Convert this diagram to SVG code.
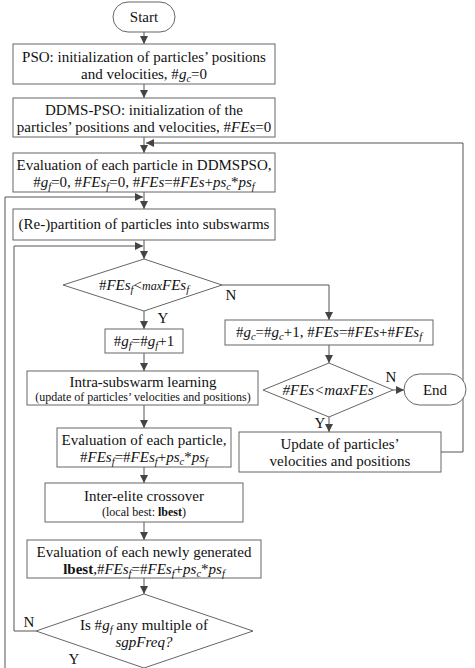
<svg xmlns="http://www.w3.org/2000/svg" width="475" height="668" viewBox="0 0 475 668">
<defs>
<marker id="ah" viewBox="0 0 10 10" refX="10" refY="5" markerWidth="8" markerHeight="8" markerUnits="userSpaceOnUse" orient="auto">
<path d="M0,0 L10,5 L0,10 z" fill="#444"/>
</marker>
</defs>
<style>
.b{fill:#fff;stroke:#666;stroke-width:1}
.t{font-family:'Liberation Serif','Times New Roman',Times,serif;font-size:15px;fill:#111;text-anchor:middle}
.s{font-size:12px}
.i{font-style:italic}
.sub{font-size:10.5px;font-style:italic}
.c{fill:none;stroke:#555;stroke-width:1}
.a{fill:none;stroke:#555;stroke-width:1;marker-end:url(#ah)}
</style>
<rect width="475" height="668" fill="#fff"/>
<g id="connectors">
<line class="a" x1="144" y1="32" x2="144" y2="44"/>
<line class="a" x1="144" y1="84" x2="144" y2="98"/>
<line class="a" x1="144" y1="137" x2="144" y2="153"/>
<polyline class="a" points="441,452 463,452 463,143 146,143"/>
<line class="a" x1="144" y1="192" x2="144" y2="209"/>
<polyline class="a" points="5,668 5,197 143,197"/>
<polyline class="a" points="36,631 14,631 14,246 143,246"/>
<line class="a" x1="144" y1="240" x2="144" y2="259"/>
<line class="a" x1="144" y1="311" x2="144" y2="329"/>
<polyline class="a" points="222,285 329,285 329,320"/>
<line class="a" x1="329" y1="345" x2="329" y2="363"/>
<line class="a" x1="393" y1="390" x2="404" y2="390"/>
<line class="a" x1="329" y1="417" x2="329" y2="432"/>
<line class="a" x1="144" y1="353" x2="144" y2="371"/>
<line class="a" x1="144" y1="405" x2="144" y2="428"/>
<line class="a" x1="144" y1="467" x2="144" y2="483"/>
<line class="a" x1="144" y1="522" x2="144" y2="540"/>
<line class="a" x1="144" y1="578" x2="144" y2="594"/>
</g>
<g id="start">
<rect class="b" x="113" y="2" width="62" height="30" rx="15"/>
<text class="t" x="144" y="22">Start</text>
</g>
<g id="pso-init">
<rect class="b" x="13" y="44" width="262" height="40"/>
<text class="t" x="144" y="62">PSO: initialization of particles’ positions</text>
<text class="t" x="144" y="79">and velocities, #<tspan class="i">g</tspan><tspan class="sub" dy="3">c</tspan><tspan dy="-3">=0</tspan></text>
</g>
<g id="ddms-init">
<rect class="b" x="13" y="98" width="262" height="39"/>
<text class="t" x="144" y="115">DDMS-PSO: initialization of the</text>
<text class="t" x="144" y="132">particles’ positions and velocities, #<tspan class="i">FEs</tspan>=0</text>
</g>
<g id="eval-all">
<rect class="b" x="13" y="153" width="262" height="39"/>
<text class="t" x="144" y="170">Evaluation of each particle in DDMSPSO,</text>
<text class="t" x="144" y="187">#<tspan class="i">g</tspan><tspan class="sub" dy="3">f</tspan><tspan dy="-3">=0, #</tspan><tspan class="i">FEs</tspan><tspan class="sub" dy="3">f</tspan><tspan dy="-3">=0, #</tspan><tspan class="i">FEs</tspan>=#<tspan class="i">FEs</tspan>+<tspan class="i">ps</tspan><tspan class="sub" dy="3">c</tspan><tspan dy="-3">*</tspan><tspan class="i">ps</tspan><tspan class="sub" dy="3">f</tspan></text>
</g>
<g id="repartition">
<rect class="b" x="13" y="209" width="262" height="31"/>
<text class="t" x="144" y="229">(Re-)partition of particles into subswarms</text>
</g>
<g id="cond-fesf">
<polygon class="b" points="144,259 222,285 144,311 63,285"/>
<text class="t" x="144" y="290">#<tspan class="i">FEs</tspan><tspan class="sub" dy="3">f</tspan><tspan dy="-3">&lt;</tspan><tspan class="i s">max</tspan><tspan class="i">FEs</tspan><tspan class="sub" dy="3">f</tspan></text>
<text class="t" x="231" y="300">N</text>
<text class="t" x="163" y="323">Y</text>
</g>
<g id="gf-inc">
<rect class="b" x="105" y="329" width="78" height="24"/>
<text class="t" x="144" y="346">#<tspan class="i">g</tspan><tspan class="sub" dy="3">f</tspan><tspan dy="-3">=#</tspan><tspan class="i">g</tspan><tspan class="sub" dy="3">f</tspan><tspan dy="-3">+1</tspan></text>
</g>
<g id="gc-inc">
<rect class="b" x="225" y="320" width="208" height="25"/>
<text class="t" x="329" y="337">#<tspan class="i">g</tspan><tspan class="sub" dy="3">c</tspan><tspan dy="-3">=#</tspan><tspan class="i">g</tspan><tspan class="sub" dy="3">c</tspan><tspan dy="-3">+1, #</tspan><tspan class="i">FEs</tspan>=#<tspan class="i">FEs</tspan>+#<tspan class="i">FEs</tspan><tspan class="sub" dy="3">f</tspan></text>
</g>
<g id="cond-fes">
<polygon class="b" points="329,363 393,390 329,417 263,390"/>
<text class="t i" x="328" y="395">#FEs&lt;maxFEs</text>
<text class="t" x="391" y="382">N</text>
<text class="t" x="320" y="428">Y</text>
</g>
<g id="end">
<rect class="b" x="404" y="374" width="62" height="31" rx="15.5"/>
<text class="t" x="435" y="395">End</text>
</g>
<g id="update">
<rect class="b" x="239" y="432" width="202" height="40"/>
<text class="t" x="340" y="449">Update of particles’</text>
<text class="t" x="340" y="466">velocities and positions</text>
</g>
<g id="intra">
<rect class="b" x="27" y="371" width="231" height="34"/>
<text class="t" x="143" y="387">Intra-subswarm learning</text>
<text class="t s" x="143" y="401">(update of particles’ velocities and positions)</text>
</g>
<g id="eval-particle">
<rect class="b" x="57" y="428" width="174" height="39"/>
<text class="t" x="144" y="445">Evaluation of each particle,</text>
<text class="t" x="144" y="462">#<tspan class="i">FEs</tspan><tspan class="sub" dy="3">f</tspan><tspan dy="-3">=#</tspan><tspan class="i">FEs</tspan><tspan class="sub" dy="3">f</tspan><tspan dy="-3">+</tspan><tspan class="i">ps</tspan><tspan class="sub" dy="3">c</tspan><tspan dy="-3">*</tspan><tspan class="i">ps</tspan><tspan class="sub" dy="3">f</tspan></text>
</g>
<g id="crossover">
<rect class="b" x="45" y="483" width="198" height="39"/>
<text class="t" x="144" y="501">Inter-elite crossover</text>
<text class="t s" x="144" y="516">(local best: <tspan font-weight="bold">lbest</tspan>)</text>
</g>
<g id="eval-lbest">
<rect class="b" x="27" y="540" width="234" height="38"/>
<text class="t" x="144" y="557">Evaluation of each newly generated</text>
<text class="t" x="144" y="574"><tspan font-weight="bold">lbest</tspan>,#<tspan class="i">FEs</tspan><tspan class="sub" dy="3">f</tspan><tspan dy="-3">=#</tspan><tspan class="i">FEs</tspan><tspan class="sub" dy="3">f</tspan><tspan dy="-3">+</tspan><tspan class="i">ps</tspan><tspan class="sub" dy="3">c</tspan><tspan dy="-3">*</tspan><tspan class="i">ps</tspan><tspan class="sub" dy="3">f</tspan></text>
</g>
<g id="cond-sgp">
<polygon class="b" points="144,594 253,631 144,668 36,631"/>
<text class="t" x="144" y="630">Is #<tspan class="i">g</tspan><tspan class="sub" dy="3">f</tspan><tspan dy="-3"> any multiple of</tspan></text>
<text class="t i" x="144" y="647">sgpFreq?</text>
<text class="t" x="29" y="627">N</text>
<text class="t" x="74" y="664">Y</text>
</g>
</svg>
